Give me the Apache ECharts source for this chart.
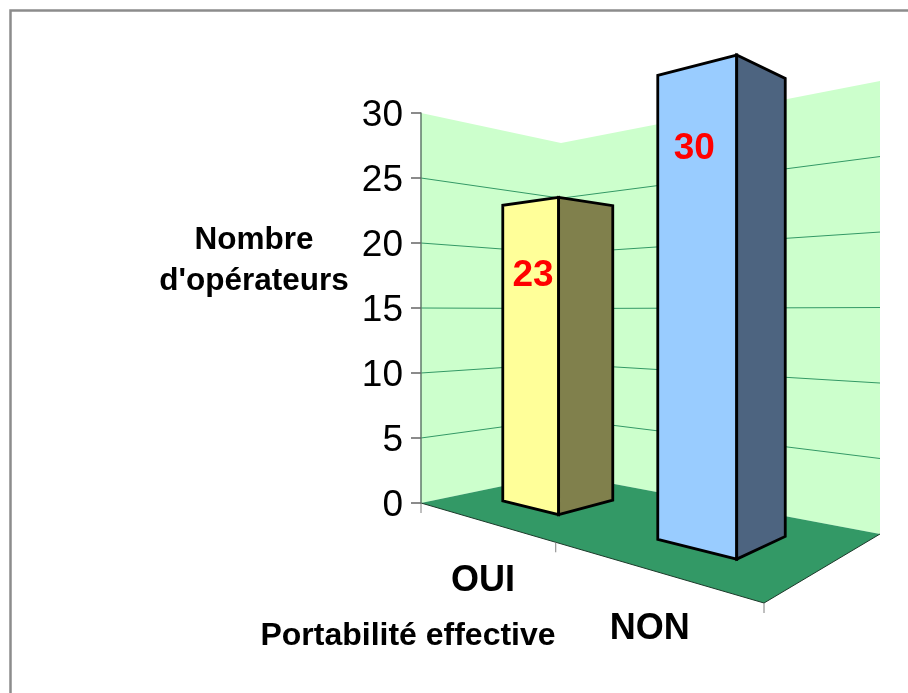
<!DOCTYPE html>
<html>
<head>
<meta charset="utf-8">
<style>html,body{margin:0;padding:0;background:#fff}#c{width:908px;height:693px}</style>
<script src="https://cdn.jsdelivr.net/npm/echarts@6/dist/echarts.min.js"></script>
</head>
<body>
<div id="c"></div>
<script>
// ---- data
const categories = ['OUI', 'NON'];
const values = [23, 30];
const yTicks = [0, 5, 10, 15, 20, 25, 30];
const yNameLines = "Nombre\nd'opérateurs";
const xName = 'Portabilité effective';

// ---- perspective layout: floor corners (front-left, front-right, back-right, back-left)
const FONT = '"Liberation Sans", Arial, sans-serif';
const Q = [[421, 503], [764, 603], [880, 534], [561, 474]];
const barU = [[0.143, 0.358], [0.663, 0.855]];
const barV = [0.31, 0.70];
const tickU = [0, 0.515, 1];
const heightFit = [1, -0.073, 0.033];
const barStyle = [{front: '#ffff99', side: '#80804c'}, {front: '#99ccff', side: '#4d6480'}];
const labelDx = [3.5, -1];
const labelDrop = [5.6, 5.18];
const catLabelDx = [4, 7];

const H = (function () {
  const [p0, p1, p2, p3] = Q;
  const dx1 = p1[0] - p2[0], dx2 = p3[0] - p2[0], sx = p0[0] - p1[0] + p2[0] - p3[0];
  const dy1 = p1[1] - p2[1], dy2 = p3[1] - p2[1], sy = p0[1] - p1[1] + p2[1] - p3[1];
  const det = dx1 * dy2 - dx2 * dy1;
  const g = (sx * dy2 - dx2 * sy) / det, h = (dx1 * sy - sx * dy1) / det;
  return {
    g, h,
    a: p1[0] - p0[0] + g * p1[0], b: p3[0] - p0[0] + h * p3[0], c: p0[0],
    d: p1[1] - p0[1] + g * p1[1], e: p3[1] - p0[1] + h * p3[1], f: p0[1]
  };
})();

// u along the categories, v into the depth, val in axis units; unit = pixels per axis unit at the y axis
function project(u, v, val, unit) {
  const w = H.g * u + H.h * v + 1;
  const s = unit * (heightFit[0] + heightFit[1] * u + heightFit[2] * v);
  return [(H.a * u + H.b * v + H.c) / w, (H.d * u + H.e * v + H.f - s * val) / w];
}
const poly = (points, fill, extra) => ({
  type: 'polygon', shape: {points}, style: Object.assign({fill}, extra || {})
});
const line = (points, stroke, lineWidth) => ({
  type: 'polyline', shape: {points}, style: {fill: null, stroke, lineWidth}
});

function renderRoom(params, api) {
  const unit = api.size([0, 1])[1];
  const top = yTicks[yTicks.length - 1];
  const P = (u, v, val) => project(u, v, val, unit);
  const children = [
    poly([P(0, 0, 0), P(0, 1, 0), P(0, 1, top), P(0, 0, top)], '#ccffcc'),
    poly([P(0, 1, 0), P(1, 1, 0), P(1, 1, top), P(0, 1, top)], '#ccffcc'),
    poly([P(0, 0, 0), P(1, 0, 0), P(1, 1, 0), P(0, 1, 0)], '#339966'),
    line([P(0, 0, 0), P(1, 0, 0), P(1, 1, 0)], '#1c3a2a', 1)
  ];
  yTicks.slice(1, -1).forEach(t => {
    children.push(line([P(0, 0, t), P(0, 1, t), P(1, 1, t)], '#339966', 1));
  });
  tickU.forEach(u => {
    const a = P(u, 0, 0);
    children.push(line([a, [a[0], a[1] + 10]], '#808080', 1));
  });
  return {type: 'group', children};
}

function renderBar(params, api) {
  const i = api.value(0), val = api.value(1);
  const unit = api.size([0, 1])[1];
  const P = (u, v, h) => project(u, v, h, unit);
  const [u0, u1] = barU[i], [v0, v1] = barV;
  const st = barStyle[i];
  const border = {stroke: '#000', lineWidth: 2.8, lineJoin: 'miter'};
  const lf = P(u0, v0, 0), ft = P(u1, v0, 0), rt = P(u1, v1, 0);
  const ltT = P(u0, v0, val), ftT = P(u1, v0, val), rtT = P(u1, v1, val);
  const labelPos = P((u0 + u1) / 2, v0, val - labelDrop[i]);
  return {
    type: 'group',
    children: [
      poly([lf, ft, ftT, ltT], st.front, border),
      poly([ft, rt, rtT, ftT], st.side, border),
      {
        type: 'text', z2: 10,
        style: {
          text: String(val), x: labelPos[0] + labelDx[i], y: labelPos[1],
          align: 'center', verticalAlign: 'middle',
          fill: '#ff0000', font: 'bold 37px ' + FONT
        }
      }
    ]
  };
}

function renderCatLabel(params, api) {
  const i = api.value(0);
  const unit = api.size([0, 1])[1];
  const a = project((i + 0.5) / 2, 0, 0, unit);
  return {
    type: 'text',
    style: {
      text: categories[i], x: a[0] + catLabelDx[i], y: a[1] + 61.5,
      align: 'center', verticalAlign: 'middle',
      fill: '#000', font: 'bold 36px ' + FONT
    }
  };
}

const chart = echarts.init(document.getElementById('c'), null, {renderer: 'canvas'});
chart.setOption({
  animation: false,
  backgroundColor: '#fff',
  grid: {left: 421, top: 113, width: 459, height: 390, containLabel: false},
  xAxis: {type: 'category', data: categories, show: false},
  yAxis: {
    type: 'value', min: 0, max: 30, interval: 5, z: 5,
    axisLine: {show: true, lineStyle: {color: '#5f7a6a', width: 1.5}},
    axisTick: {show: true, length: 10, lineStyle: {color: '#666', width: 1.5}},
    axisLabel: {fontFamily: FONT, fontSize: 37, color: '#000', margin: 18, verticalAlign: 'top', lineHeight: 6},
    splitLine: {show: false}
  },
  graphic: [
    {type: 'polyline', silent: true, shape: {points: [[10.5, 693], [10.5, 10.5], [908, 10.5]]},
      style: {fill: null, stroke: '#8c8c8c', lineWidth: 2.5}},
    {type: 'text', silent: true, x: 254, y: 261,
      style: {text: yNameLines, align: 'center', verticalAlign: 'middle', lineHeight: 41, fill: '#000', font: 'bold 31.5px ' + FONT}},
    {type: 'text', silent: true, x: 408, y: 636,
      style: {text: xName, align: 'center', verticalAlign: 'middle', fill: '#000', font: 'bold 32px ' + FONT}}
  ],
  series: [
    {type: 'custom', coordinateSystem: 'cartesian2d', clip: false, silent: true, z: 1,
      renderItem: renderRoom, data: [[0, 0]], encode: {x: 0, y: 1}},
    {type: 'custom', coordinateSystem: 'cartesian2d', clip: false, silent: true, z: 3,
      renderItem: renderBar, data: values.map((v, i) => [i, v]), encode: {x: 0, y: 1}},
    {type: 'custom', coordinateSystem: 'cartesian2d', clip: false, silent: true, z: 4,
      renderItem: renderCatLabel, data: categories.map((c, i) => [i, 0]), encode: {x: 0, y: 1}}
  ]
});
</script>
</body>
</html>
